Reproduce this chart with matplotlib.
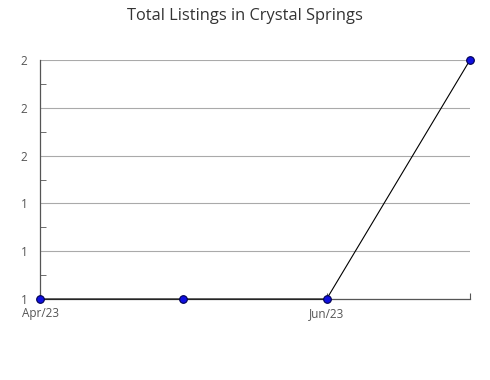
import matplotlib
matplotlib.use("Agg")
import matplotlib.pyplot as plt
from matplotlib.ticker import MultipleLocator, FormatStrFormatter

months = ["Apr/23", "May/23", "Jun/23", "Jul/23"]
listings = [1, 1, 1, 2]
tick_labels = ["Apr/23", "Jun/23"]

plt.rcParams['font.family'] = ['Open Sans', 'DejaVu Sans']

W, H = 490, 380
fig = plt.figure(figsize=(W / 100, H / 100), dpi=100)
ax = fig.add_axes([40 / W, 1 - 299 / H, 430 / W, 239 / H])

x = list(range(len(months)))
ax.plot(x, listings, color='black', lw=0.8, marker='o', ms=5.5,
        mfc='#1010e0', mec='#000050', mew=0.8, zorder=3, clip_on=False)

ax.set_xlim(0, len(months) - 1)
ax.set_ylim(1.0, 2.0)
ax.yaxis.set_major_locator(MultipleLocator(0.2))
ax.yaxis.set_minor_locator(MultipleLocator(0.1))
ax.yaxis.set_major_formatter(FormatStrFormatter('%.0f'))
ax.grid(axis='y', which='major', color='#aaaaaa', lw=0.8)

ax.set_xticks([0, 2, 3])
ax.set_xticklabels([tick_labels[0], tick_labels[1], ""])

for s in ['top', 'right']:
    ax.spines[s].set_visible(False)
for s in ['left', 'bottom']:
    ax.spines[s].set_color('#555555')
    ax.spines[s].set_linewidth(0.9)

ax.tick_params(axis='y', which='major', length=0, labelsize=8.5, labelcolor='#555555', pad=9)
ax.tick_params(axis='y', which='minor', direction='in', length=4, color='#555555')
ax.tick_params(axis='x', direction='in', length=4, color='#555555', labelsize=8.5,
               labelcolor='#555555', pad=5.5)

fig.text(245 / W, 1 - 16 / H, "Total Listings in Crystal Springs", ha='center', va='center',
         fontsize=11.8, color='#333333')

fig.savefig("out.png", dpi=100)
